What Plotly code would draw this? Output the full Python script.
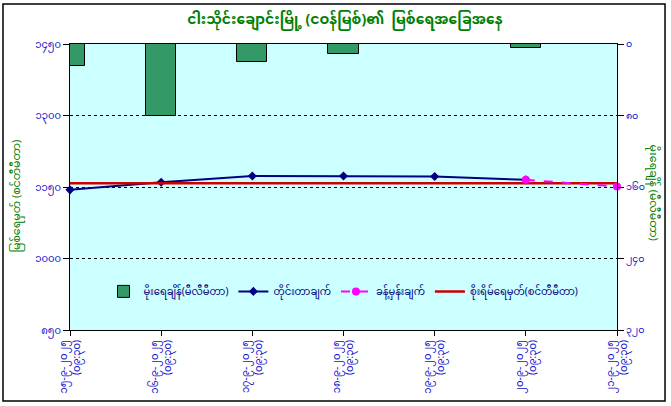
import plotly.graph_objects as go

# dates of reading (Myanmar digits) and reading time
dates = ["၁၅-၉-၂၀၂၅", "၁၆-၉-၂၀၂၅", "၁၇-၉-၂၀၂၅", "၁၈-၉-၂၀၂၅",
         "၁၉-၉-၂၀၂၅", "၂၀-၉-၂၀၂၅", "၂၁-၉-၂၀၂၅"]
read_time = "(၀၉:၃၀)"
categories = [d + "<br>" + read_time for d in dates]

rainfall = [25, 81, 20, 11, 0, 5, None]          # mm, right axis
observed = [1144, 1160, 1173, 1173, 1172, 1165, None]   # cm
forecast = [None, None, None, None, None, 1165, 1151]   # cm
danger = [1158] * 7                               # cm

left_vals = [850, 1000, 1150, 1300, 1450]
left_text = ["၈၅၀", "၁၀၀၀", "၁၁၅၀", "၁၃၀၀", "၁၄၅၀"]
right_vals = [0, 80, 160, 240, 320]
right_text = ["၀", "၈၀", "၁၆၀", "၂၄၀", "၃၂၀"]

title = "ငါးသိုင်းချောင်းမြို့ (ငဝန်မြစ်)၏  မြစ်ရေအခြေအနေ"
left_title = "မြစ်ရေမှတ် (စင်တီမီတာ)"
right_title = "မိုးရေချိန် (မီလီမီတာ)"
names = ["မိုးရေချိန်(မီလီမီတာ)", "တိုင်းတာချက်", "ခန့်မှန်းချက်",
         "စိုးရိမ်ရေမှတ်(စင်တီမီတာ)"]

FONT = "Noto Sans Myanmar, Myanmar Text, Padauk, Noto Sans, DejaVu Sans, sans-serif"
BLUE = "#1010CC"
GREEN = "#008000"

fig = go.Figure()
fig.add_trace(go.Bar(x=categories, y=rainfall, name=names[0], yaxis="y2",
                     width=0.33, marker=dict(color="#339966",
                                             line=dict(color="black", width=1))))
fig.add_trace(go.Scatter(x=categories, y=observed, name=names[1], mode="lines+markers",
                         line=dict(color="#000080", width=2),
                         marker=dict(symbol="diamond", size=7, color="#000080"),
                         cliponaxis=False))
fig.add_trace(go.Scatter(x=categories, y=danger, name=names[3], mode="lines",
                         line=dict(color="#CC0000", width=2.5)))
fig.add_trace(go.Scatter(x=categories, y=forecast, name=names[2], mode="lines+markers",
                         line=dict(color="#FF00FF", width=2, dash="dash"),
                         marker=dict(symbol="circle", size=8, color="#FF00FF"),
                         cliponaxis=False))

fig.update_layout(
    width=671, height=406,
    margin=dict(l=70, r=54, t=44, b=76),
    paper_bgcolor="white", plot_bgcolor="#CCFFFF",
    font=dict(family=FONT, size=10, color=BLUE),
    title=dict(text="<b>" + title + "</b>", x=0.514, xanchor="center", y=0.953,
               yanchor="middle", font=dict(size=14, color=GREEN)),
    xaxis=dict(type="category", range=[0, 6], showline=True, linecolor="black",
               linewidth=1, mirror=True, ticks="outside", ticklen=5, tickcolor="black",
               tickangle=-90, tickfont=dict(size=10, color=BLUE), showgrid=False,
               automargin=False),
    yaxis=dict(range=[850, 1450], tickvals=left_vals, ticktext=left_text,
               showline=True, linecolor="black", linewidth=1, mirror=True,
               ticks="outside", ticklen=6, tickcolor="black",
               showgrid=True, gridcolor="black", griddash="dot", gridwidth=1,
               tickfont=dict(size=10, color=BLUE), zeroline=False, automargin=False),
    yaxis2=dict(range=[320, 0], overlaying="y", side="right",
                tickvals=right_vals, ticktext=right_text,
                showline=True, linecolor="black", linewidth=1,
                ticks="outside", ticklen=6, tickcolor="black", showgrid=False,
                tickfont=dict(size=9.5, color=BLUE), zeroline=False, automargin=False),
    legend=dict(orientation="h", x=0.5, xanchor="center", y=0.135, yanchor="middle",
                bgcolor="rgba(0,0,0,0)", font=dict(size=10, color="#000080"),
                traceorder="normal", itemwidth=30),
    showlegend=True,
    bargap=0,
)

# legend order: rainfall, observed, forecast, danger
fig.data[1].legendrank = 1
fig.data[3].legendrank = 2
fig.data[2].legendrank = 3
fig.data[0].legendrank = 0

fig.add_annotation(text=left_title, xref="paper", yref="paper", x=-0.097, y=0.47,
                   textangle=-90, showarrow=False, xanchor="center", yanchor="middle",
                   font=dict(size=11, color=GREEN))
fig.add_annotation(text=right_title, xref="paper", yref="paper", x=1.066, y=0.48,
                   textangle=90, showarrow=False, xanchor="center", yanchor="middle",
                   font=dict(size=11, color=GREEN))

# outer chart frame
fig.add_shape(type="rect", xref="paper", yref="paper",
              x0=-0.1225, x1=1.0878, y0=-0.248, y1=1.14,
              line=dict(color="black", width=1.5), layer="below")

fig.write_html("out.html", config={"displayModeBar": False},
               post_script="document.body.style.margin='0';")
